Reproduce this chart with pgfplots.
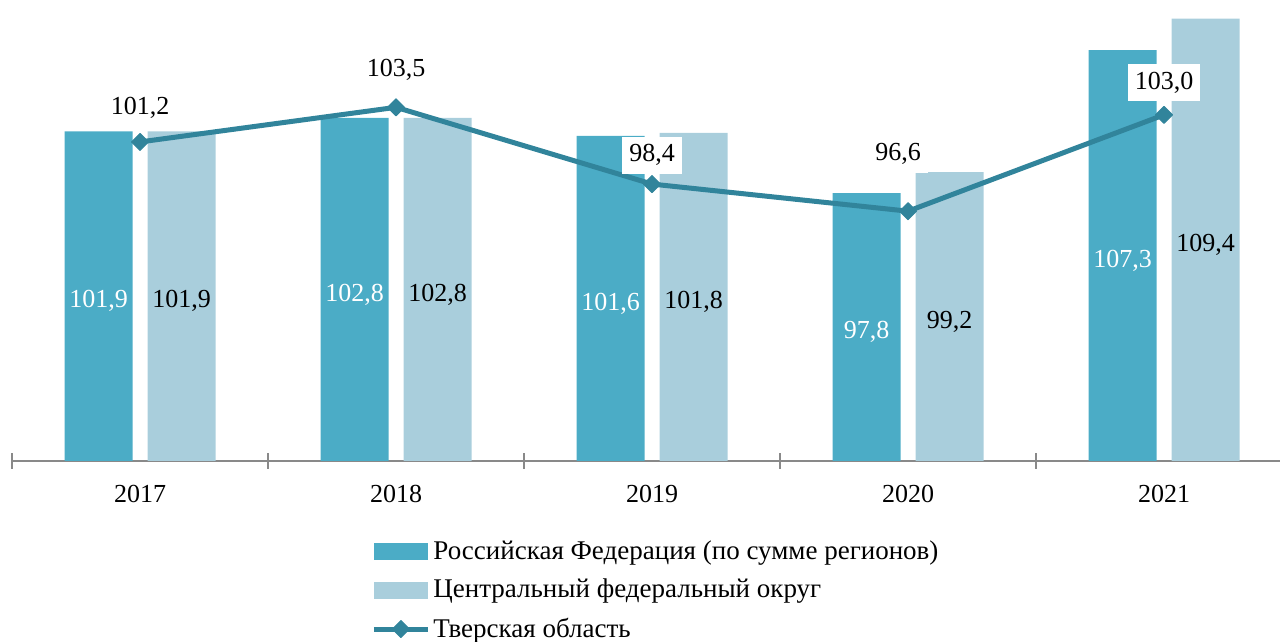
\documentclass[border=0pt]{standalone}
\usepackage{fontspec}
\setmainfont{Liberation Serif}
\usepackage{pgfplots}
\usepackage{pgfplotstable}
\pgfplotsset{compat=1.18}
\definecolor{rfblue}{HTML}{4BACC6}
\definecolor{cfdblue}{HTML}{A9CEDC}
\definecolor{tverline}{HTML}{31849B}
\definecolor{axisgray}{HTML}{898989}

% loff/lx: label offset of the line labels (pt)
\pgfplotstableread{
x rf cfd tver loff lx
0 101.9 101.9 101.2 17 0
1 102.8 102.8 103.5 18.5 0
2 101.6 101.8 98.4 14.5 0
3 97.8 99.2 96.6 28.5 -5
4 107.3 109.4 103.0 16 0
}\datatable

\begin{document}
\begin{tikzpicture}[font=\fontsize{13}{15.6}\selectfont]
\path[use as bounding box] (-6pt,-90.5pt) rectangle (634pt,230.5pt);
\begin{axis}[
  at={(0,0)}, anchor=south west,
  scale only axis, width=634pt, height=225.75pt,
  xmin=-0.5, xmax=4.453, ymin=80, ymax=110,
  axis x line*=bottom, axis y line=none, ytick=\empty,
  axis line style={axisgray, line width=1pt},
  xtick={0,...,4}, xticklabels={2017,2018,2019,2020,2021},
  major tick length=0pt,
  xticklabel style={font=\fontsize{13}{15.6}\selectfont, yshift=-8.5pt},
  extra x ticks={-0.5,0.5,1.5,2.5,3.5}, extra x tick labels={},
  extra x tick style={major tick length=8pt, tick align=center,
    tick style={draw=axisgray, line width=1pt}},
  /pgf/number format/.cd, use comma, fixed, fixed zerofill, precision=1, assume math mode=true,
  /pgfplots/.cd,
  nodes near coords style={font=\fontsize{13}{15.6}\selectfont},
  legend style={at={(0.2863,0)}, anchor=north west, yshift=-36pt, xshift=-5pt,
    draw=none, fill=none, row sep=5.5pt, font=\fontsize{13.5}{16}\selectfont,
    nodes={inner sep=1.5pt}},
  legend cell align=left,
  clip=false,
]
\addplot[ybar, bar width=34pt, bar shift=-20.75pt, fill=rfblue, draw=none,
  nodes near coords, visualization depends on={rawy \as \rawy},
  every node near coord/.append style={white, anchor=center, xshift=-20.75pt, yshift=-2.5pt,
    shift={(axis direction cs:0,{-(\rawy-80)/2})}},
  legend image code/.code={\fill[rfblue] (0pt,-4.25pt) rectangle (27pt,4.25pt);}]
  table[x=x, y=rf]{\datatable};
\addlegendentry{Российская Федерация (по сумме регионов)}
\addplot[ybar, bar width=34pt, bar shift=20.75pt, fill=cfdblue, draw=none,
  nodes near coords, visualization depends on={rawy \as \rawy},
  every node near coord/.append style={black, anchor=center, xshift=20.75pt, yshift=-2.5pt,
    shift={(axis direction cs:0,{-(\rawy-80)/2})}},
  legend image code/.code={\fill[cfdblue] (0pt,-4.25pt) rectangle (27pt,4.25pt);}]
  table[x=x, y=cfd]{\datatable};
\addlegendentry{Центральный федеральный округ}
\addplot[tverline, line width=2.5pt, line join=round, mark=square*, mark size=3pt,
  mark options={rotate=45, solid, line width=0.5pt},
  nodes near coords,
  visualization depends on={\thisrow{loff} \as \loff},
  visualization depends on={\thisrow{lx} \as \lx},
  every node near coord/.append style={black, fill=white, anchor=center,
    yshift=\loff pt, xshift=\lx pt,
    inner sep=3.5pt, text height=9pt, text depth=2.5pt},
  legend image code/.code={\draw[tverline, line width=2.5pt, mark=square*, mark size=3pt,
    mark options={rotate=45, line width=0.5pt}, mark repeat=2, mark phase=2]
    plot coordinates {(0pt,0pt) (13.5pt,0pt) (27pt,0pt)};}]
  table[x=x, y=tver]{\datatable};
\addlegendentry{Тверская область}
\end{axis}
\end{tikzpicture}
\end{document}
